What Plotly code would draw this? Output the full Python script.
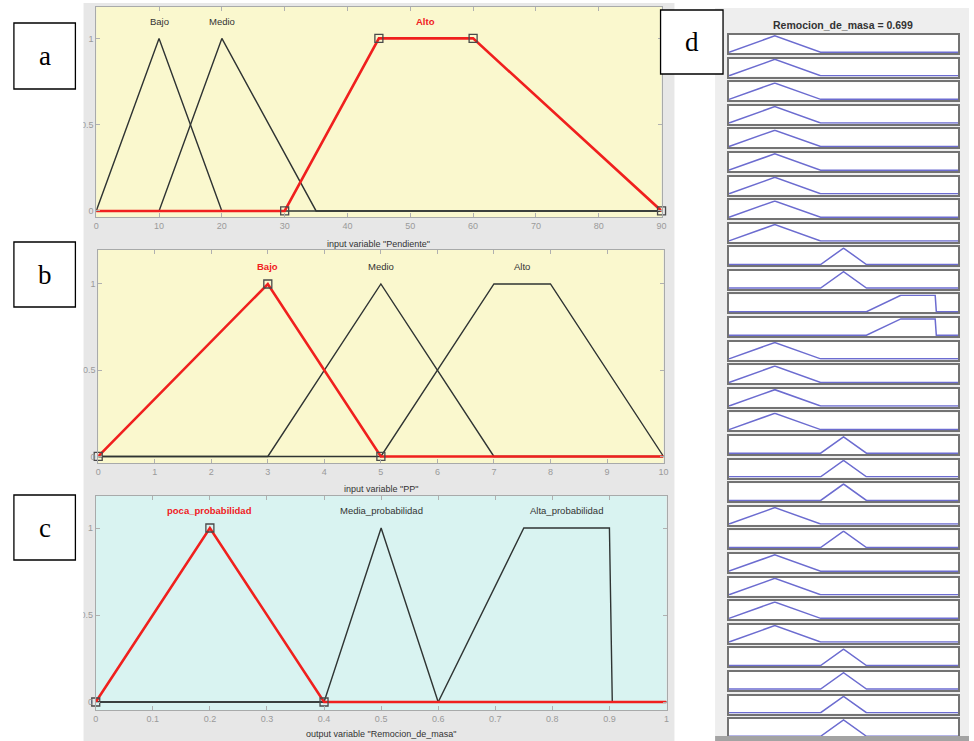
import plotly.graph_objects as go

W, H = 974, 741

# ---------------- Fuzzy system data ----------------
pendiente_range = [0, 90]
pendiente_names = ["Bajo", "Medio", "Alto"]
pendiente_params = [[0, 10, 20], [10, 20, 35], [30, 45, 60, 90]]
pendiente_ticks = [0, 10, 20, 30, 40, 50, 60, 70, 80, 90]
pendiente_selected = 2

pp_range = [0, 10]
pp_names = ["Bajo", "Medio", "Alto"]
pp_params = [[0, 3, 5], [3, 5, 7], [5, 7, 8, 10]]
pp_ticks = [0, 1, 2, 3, 4, 5, 6, 7, 8, 9, 10]
pp_selected = 0

remocion_range = [0, 1]
remocion_names = ["poca_probabilidad", "Media_probabilidad", "Alta_probabilidad"]
remocion_params = [[0, 0.2, 0.4], [0.4, 0.5, 0.6], [0.6, 0.75, 0.9, 0.905]]
remocion_ticks = [0, 0.1, 0.2, 0.3, 0.4, 0.5, 0.6, 0.7, 0.8, 0.9, 1]
remocion_selected = 0

y_ticks = [0, 0.5, 1]
y_ticktext = ["0", "0.5", "1"]

# consequent of each rule, in rule order
rule_consequents = (
    ["poca_probabilidad"] * 9
    + ["Media_probabilidad"] * 2
    + ["Alta_probabilidad"] * 2
    + ["poca_probabilidad"] * 4
    + ["Media_probabilidad"] * 3
    + ["poca_probabilidad"]
    + ["Media_probabilidad"]
    + ["poca_probabilidad"] * 4
    + ["Media_probabilidad"] * 4
)
remocion_output = 0.699

# ---------------- helpers ----------------
def px(x):
    return x / W


def py(y):
    return 1 - y / H


def mf_outline(params, lo, hi):
    if len(params) == 3:
        a, b, c = params
        return [lo, a, b, c, hi], [0, 0, 1, 0, 0]
    a, b, c, d = params
    return [lo, a, b, c, d, hi], [0, 0, 1, 1, 0, 0]


def mf_points(params):
    if len(params) == 3:
        return list(params), [0, 1, 0]
    return list(params), [0, 1, 1, 0]


def mf_label_x(params):
    if len(params) == 3:
        return params[1]
    return (params[1] + params[2]) / 2


def note(x, y, text, font, xref="paper", yref="paper"):
    return dict(x=x, y=y, xref=xref, yref=yref, text=text, showarrow=False,
                xanchor="center", yanchor="middle", font=font)


FONT = "Liberation Sans, Arial, sans-serif"
BLACK_LINE = "#2f3433"
RED = "#f0201e"
TICK_GRAY = "#9a9a9a"

fig = go.Figure()
shapes = []
annotations = []
layout = {}

# ---------------- membership function panels ----------------
panels = [
    # key, range, names, params, ticks, selected, domain px, y range, bg, title, title y
    ("", pendiente_range, pendiente_names, pendiente_params, pendiente_ticks, pendiente_selected,
     (94, 664, 7, 217), [-0.035, 1.182], "#faf8ce", 'input variable "Pendiente"', 244),
    ("2", pp_range, pp_names, pp_params, pp_ticks, pp_selected,
     (96, 666, 250, 463), [-0.038, 1.197], "#faf8ce", 'input variable "PP"', 489),
    ("3", remocion_range, remocion_names, remocion_params, remocion_ticks, remocion_selected,
     (93.5, 669, 496, 710), [-0.046, 1.184], "#d9f3f1", 'output variable "Remocion_de_masa"', 734),
]

# grey panel backgrounds
shapes.append(dict(type="rect", xref="paper", yref="paper", x0=px(81), x1=px(677),
                   y0=py(741), y1=py(3), fillcolor="#e7e7e7", line_width=0, layer="below"))
shapes.append(dict(type="rect", xref="paper", yref="paper", x0=px(718), x1=px(974),
                   y0=py(741), y1=py(8), fillcolor="#eeeeee", line_width=0, layer="below"))

for key, rng, names, params, ticks, sel, dom, yr, bg, title, ty in panels:
    xa, ya = "x" + key, "y" + key
    x0, x1, t, b = dom
    layout["xaxis" + key] = dict(
        domain=[px(x0), px(x1)], range=rng, anchor=ya, tickvals=ticks,
        ticks="inside", ticklen=4, tickcolor="#b0b0b0", showline=True,
        linecolor="#a8aaaa", linewidth=1, mirror="ticks", showgrid=False, zeroline=False,
        tickfont=dict(family=FONT, size=9, color=TICK_GRAY),
    )
    layout["yaxis" + key] = dict(
        domain=[py(b), py(t)], range=yr, anchor=xa, tickvals=y_ticks, ticktext=y_ticktext,
        ticks="inside", ticklen=4, tickcolor="#b0b0b0", showline=True,
        linecolor="#a8aaaa", linewidth=1, mirror="ticks", showgrid=False, zeroline=False,
        tickfont=dict(family=FONT, size=9, color=TICK_GRAY),
    )
    shapes.append(dict(type="rect", xref=xa + " domain", yref=ya + " domain", x0=0, x1=1,
                       y0=0, y1=1, fillcolor=bg, line_width=0, layer="below"))
    lo, hi = rng
    for i, p in enumerate(params):
        if i == sel:
            continue
        xs, ys = mf_outline(p, lo, hi)
        fig.add_trace(go.Scatter(x=xs, y=ys, mode="lines", xaxis=xa, yaxis=ya,
                                 line=dict(color=BLACK_LINE, width=1.4), hoverinfo="skip"))
    xs, ys = mf_outline(params[sel], lo, hi)
    fig.add_trace(go.Scatter(x=xs, y=ys, mode="lines", xaxis=xa, yaxis=ya,
                             line=dict(color=RED, width=2.6), hoverinfo="skip"))
    mx, my = mf_points(params[sel])
    fig.add_trace(go.Scatter(x=mx, y=my, mode="markers", xaxis=xa, yaxis=ya, cliponaxis=False,
                             marker=dict(symbol="square-open", size=8, color="#4a4a4a",
                                         line=dict(width=1.3)), hoverinfo="skip"))
    for i, (n, p) in enumerate(zip(names, params)):
        annotations.append(note(mf_label_x(p), 1.1, ("<b>%s</b>" % n) if i == sel else n,
                                dict(family=FONT, size=9.5, color=RED if i == sel else "#333"),
                                xref=xa, yref=ya))
    annotations.append(note(px((x0 + x1) / 2), py(ty), title,
                            dict(family=FONT, size=9, color="#333")))

# ---------------- rule viewer (output column) ----------------
row_top0, row_step, row_h = 35, 23.59, 18
row_x0, row_x1 = 732, 963
pad = 0.05
for r, cons in enumerate(rule_consequents):
    k = str(r + 4)
    xa, ya = "x" + k, "y" + k
    t = row_top0 + r * row_step
    b = t + row_h
    layout["xaxis" + k] = dict(domain=[px(row_x0), px(row_x1)], range=[0, 1], anchor=ya,
                               showticklabels=False, ticks="", showgrid=False, zeroline=False,
                               showline=True, linecolor="#737373", linewidth=1.8, mirror=True,
                               layer="below traces")
    layout["yaxis" + k] = dict(domain=[py(b), py(t)], range=[-pad, 1 + pad], anchor=xa,
                               showticklabels=False, ticks="", showgrid=False, zeroline=False,
                               showline=True, linecolor="#737373", linewidth=1.8, mirror=True,
                               layer="below traces")
    shapes.append(dict(type="rect", xref=xa + " domain", yref=ya + " domain", x0=0, x1=1,
                       y0=0, y1=1, fillcolor="white", line_width=0, layer="below"))
    p = remocion_params[remocion_names.index(cons)]
    xs, ys = mf_outline(p, *remocion_range)
    fig.add_trace(go.Scatter(x=xs, y=ys, mode="lines", xaxis=xa, yaxis=ya,
                             line=dict(color="#6c6cd0", width=1.5), hoverinfo="skip"))

annotations.append(note(px(847), py(25), "<b>Remocion_de_masa = %.3f</b>" % remocion_output,
                        dict(family=FONT, size=10.5, color="#333")))

# bottom edge of the rule viewer
shapes.append(dict(type="rect", xref="paper", yref="paper", x0=px(718), x1=px(974),
                   y0=py(741), y1=py(736), fillcolor="#a3a3a3", line_width=0, layer="above"))
# left margin (clips tick labels at the panel border)
shapes.append(dict(type="rect", xref="paper", yref="paper", x0=0, x1=px(81),
                   y0=0, y1=1, fillcolor="white", line_width=0, layer="above"))

# ---------------- panel letters ----------------
letter_boxes = [("a", 11, 73, 23, 89), ("b", 11, 73, 242, 307), ("c", 11, 73, 495, 560),
                ("d", 663, 726, 10, 74)]
for letter, x0, x1, t, b in letter_boxes:
    shapes.append(dict(type="rect", xref="paper", yref="paper", x0=px(x0), x1=px(x1),
                       y0=py(b), y1=py(t), fillcolor="white",
                       line=dict(color="black", width=1.3), layer="above"))
    annotations.append(note(px((x0 + x1) / 2), py((t + b) / 2), letter,
                            dict(family="Liberation Serif, Times New Roman, serif", size=27,
                                 color="black")))

fig.update_layout(
    width=W, height=H, margin=dict(l=0, r=0, t=0, b=0),
    paper_bgcolor="white", plot_bgcolor="white", showlegend=False,
    shapes=shapes, annotations=annotations, **layout,
)

fig.write_html("out.html")
